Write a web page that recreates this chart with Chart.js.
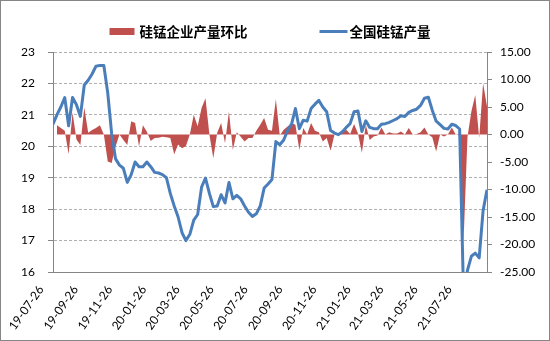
<!DOCTYPE html>
<html>
<head>
<meta charset="utf-8">
<script src="https://cdn.jsdelivr.net/npm/chart.js@4.4.0/dist/chart.umd.min.js"></script>
<style>
  html, body { margin: 0; padding: 0; background: #fff; }
</style>
</head>
<body>
<canvas id="chart" width="550" height="341"></canvas>
<script>
// weekly data, first week 2019-07-26
const firstWeek = '2019-07-26';

const tickDates = ['2019-07-26', '2019-09-26', '2019-11-26', '2020-01-26', '2020-03-26', '2020-05-26',
    '2020-07-26', '2020-09-26', '2020-11-26', '2021-01-26', '2021-03-26', '2021-05-26', '2021-07-26'];
const tickLabels = ['19-07-26', '19-09-26', '19-11-26', '20-01-26', '20-03-26', '20-05-26',
    '20-07-26', '20-09-26', '20-11-26', '21-01-26', '21-03-26', '21-05-26', '21-07-26'];

const seriesNames = ['硅锰企业产量环比', '全国硅锰产量'];

// 硅锰企业产量环比 (right axis)
const momChange = [
    null, 1.7, 1.2, 0.7, -3.6, 4.0, -0.9, -1.9, 4.9, 0.3,
    0.8, 1.2, 1.7, 0, -4.9, -5.2, -2.2, 0, -1.0, -1.9,
    2.4, 2.1, -2.2, 1.7, 0.5, -1.2, -0.65, -0.6, -0.4, -0.5,
    -0.65, -3.6, -1.8, -2.5, -2.1, 0, 3.6, 1.5, 4.8, 6.6,
    0, -4.3, 0.3, 2.1, -1.6, 4.2, -2.8, 0.4, -0.4, -1.27,
    -0.65, -0.65, 0.67, 1.76, 3.0, 0.85, 0.67, 6.4, -0.2, 0.85,
    1.45, 2.07, 1.76, -2.8, 1.16, 0, 2.07, 0.67, 0.43, -1.27,
    -0.65, -2.96, 0, 0.1, 0.5, 0.85, 0.1, 1.9, 0.2, -3.3,
    1.76, -1.0, -0.36, -0.2, 1.27, 0, 0.43, 0.2, 0.2, 0.55,
    0, 1.16, 0, 0.1, 0.43, 1.27, 0, -0.5, -3.1, 0,
    -0.36, 0, 1.27, 0, -0.2, -19.5, -0.5, 4.2, 7.2, -0.65,
    9.3, 5.1
];

// 全国硅锰产量 (left axis)
const nationalOutput = [
    20.70, 21.0, 21.25, 21.55, 20.65, 21.55, 21.32, 20.95, 21.95, 22.1,
    22.3, 22.55, 22.57, 22.57, 21.7, 20.4, 19.6, 19.4, 19.3, 18.85,
    19.1, 19.5, 19.35, 19.35, 19.5, 19.35, 19.17, 19.15, 19.1, 19.0,
    18.5, 18.1, 17.75, 17.25, 17.0, 17.2, 17.65, 17.83, 18.7, 18.99,
    18.5, 18.08, 18.1, 18.46, 18.2, 18.85, 18.33, 18.44, 18.33, 18.1,
    17.9, 17.77, 17.85, 18.1, 18.67, 18.8, 18.94, 20.15, 20.05, 20.2,
    20.5, 20.7, 21.2, 20.56, 20.83, 20.8, 21.2, 21.34, 21.46, 21.25,
    21.1, 20.5, 20.42, 20.37, 20.46, 20.6, 20.72, 21.1, 21.12, 20.47,
    20.81, 20.6, 20.56, 20.56, 20.7, 20.72, 20.76, 20.82, 20.88, 20.97,
    20.95, 21.08, 21.14, 21.18, 21.3, 21.53, 21.56, 21.15, 20.8, 20.69,
    20.57, 20.55, 20.7, 20.66, 20.55, 15.3, 16.05, 16.5, 16.6, 16.45,
    17.95, 18.62
];

const DAY = 24 * 3600 * 1000;
function daysFrom(start, d) {
    return Math.round((Date.parse(d) - Date.parse(start)) / DAY);
}
const tickDays = tickDates.map(d => daysFrom(firstWeek, d));
const weekDay = i => i * 7;

const axisColor = '#868686';
const tickFont = { family: 'Lato', size: 12 };

// legend drawn above the plot, centred on the chart area
const topLegend = {
    id: 'topLegend',
    afterDraw(chart) {
        const ctx = chart.ctx;
        const area = chart.chartArea;
        const y = 31.5;
        ctx.save();
        ctx.font = '600 13.5px "Noto Sans CJK SC"';
        ctx.textBaseline = 'middle';
        const w0 = ctx.measureText(seriesNames[0]).width;
        const w1 = ctx.measureText(seriesNames[1]).width;
        const total = 25 + 5 + w0 + 72 + 28 + 2 + w1;
        let x = (area.left + area.right) / 2 - total / 2;
        ctx.fillStyle = '#C0504D';
        ctx.fillRect(x, y - 3.5, 25, 7);
        x += 30;
        ctx.fillStyle = '#000';
        ctx.fillText(seriesNames[0], x, y);
        x += w0 + 72;
        ctx.strokeStyle = '#4A7EBB';
        ctx.lineWidth = 3;
        ctx.beginPath();
        ctx.moveTo(x, y);
        ctx.lineTo(x + 28, y);
        ctx.stroke();
        x += 30;
        ctx.fillText(seriesNames[1], x, y);
        // outer frame
        ctx.strokeStyle = axisColor;
        ctx.lineWidth = 1;
        ctx.strokeRect(0.5, 0.5, chart.width - 1, chart.height - 1);
        ctx.restore();
    }
};

const ctx = document.getElementById('chart');
new Chart(ctx, {
    type: 'line',
    data: {
        datasets: [{
            label: seriesNames[1],
            data: nationalOutput.map((v, i) => ({ x: weekDay(i), y: v })),
            yAxisID: 'y',
            borderColor: '#4A7EBB',
            borderWidth: 3,
            borderJoinStyle: 'round',
            pointRadius: 0,
            tension: 0,
            fill: false,
            order: 0
        }, {
            label: seriesNames[0],
            data: momChange.map((v, i) => ({ x: weekDay(i), y: v })),
            yAxisID: 'y1',
            backgroundColor: '#C0504D',
            borderColor: 'rgba(0,0,0,0)',
            borderWidth: 0,
            pointRadius: 0,
            tension: 0,
            fill: 'origin',
            order: 1
        }]
    },
    options: {
        responsive: false,
        animation: false,
        layout: { padding: { top: 52, left: 0, right: 0, bottom: 0 } },
        plugins: {
            legend: { display: false },
            tooltip: { enabled: false }
        },
        scales: {
            x: {
                type: 'linear',
                min: 0,
                max: weekDay(nationalOutput.length - 1),
                afterBuildTicks: (scale) => {
                    scale.ticks = tickDays.map(v => ({ value: v }));
                },
                afterFit: (scale) => { scale.height = 69; },
                ticks: {
                    autoSkip: false,
                    minRotation: 55,
                    maxRotation: 55,
                    padding: 3,
                    labelOffset: -12,
                    color: '#000',
                    font: tickFont,
                    callback: (value) => tickLabels[tickDays.indexOf(value)]
                },
                grid: { display: false },
                border: { display: true, color: axisColor }
            },
            y: {
                position: 'left',
                min: 16,
                max: 23,
                afterFit: (scale) => { scale.width = 53; },
                ticks: { stepSize: 1, padding: 13, color: '#000', font: tickFont },
                grid: { color: '#b0b0b0', tickLength: 5, tickColor: axisColor },
                border: { display: true, color: axisColor, dash: [3, 2] }
            },
            y1: {
                position: 'right',
                min: -25,
                max: 15,
                afterFit: (scale) => { scale.width = 63; },
                ticks: {
                    stepSize: 5, padding: 8, color: '#000', font: tickFont,
                    callback: (v) => v.toFixed(2)
                },
                grid: { drawOnChartArea: false, tickLength: 5, color: axisColor },
                border: { display: true, color: axisColor }
            }
        }
    },
    plugins: [topLegend]
});
</script>
</body>
</html>
